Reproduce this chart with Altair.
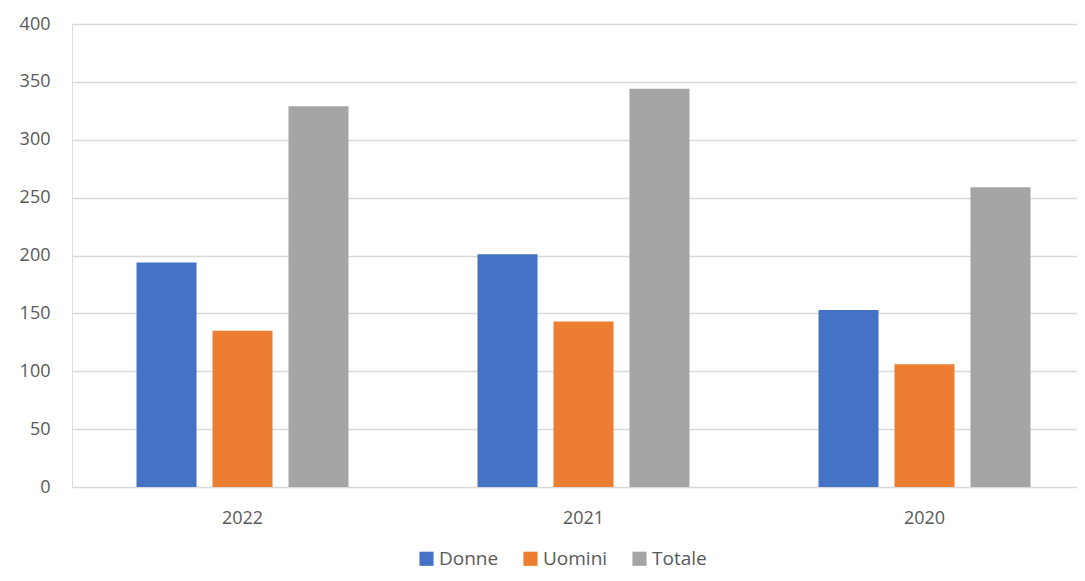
import altair as alt
import pandas as pd

years = ["2022", "2021", "2020"]
series = ["Donne", "Uomini", "Totale"]
donne = [194, 201, 153]
uomini = [135, 143, 106]
totale = [329, 344, 259]
colors = ["#4472C4", "#ED7D31", "#A5A5A5"]

rows = []
for i, y in enumerate(years):
    for s, vals in zip(series, [donne, uomini, totale]):
        rows.append({"anno": y, "serie": s, "valore": vals[i]})
df = pd.DataFrame(rows)

font = "Open Sans"
chart = alt.Chart(df).mark_bar().encode(
    x=alt.X("anno:N", sort=years, title=None,
            scale=alt.Scale(paddingInner=0, paddingOuter=0, range=[0, 1023]),
            axis=alt.Axis(labelAngle=0, ticks=False, domain=False,
                          labelFontSize=18, labelColor="#595959", labelFont=font,
                          labelPadding=22, grid=False)),
    xOffset=alt.XOffset("serie:N", sort=series,
                        scale=alt.Scale(paddingInner=0.21, paddingOuter=0.849)),
    y=alt.Y("valore:Q", title=None,
            scale=alt.Scale(domain=[0, 400], nice=False),
            axis=alt.Axis(values=list(range(0, 401, 50)), ticks=False, domain=False,
                          gridColor="#D9D9D9", gridWidth=1.3,
                          labelFontSize=18, labelColor="#595959", labelFont=font,
                          labelPadding=22)),
    color=alt.Color("serie:N", sort=series,
                    scale=alt.Scale(domain=series, range=colors),
                    legend=alt.Legend(title=None, orient="none", direction="horizontal",
                                      legendX=345, legendY=525,
                                      symbolType="square", symbolSize=200,
                                      symbolStrokeWidth=0, labelFontSize=19,
                                      labelColor="#595959", labelFont=font,
                                      columnPadding=22, labelOffset=3)),
).properties(
    width=1005, height=463,
    autosize=alt.AutoSizeParams(type="none"),
    padding={"left": 64, "top": 16, "right": 0, "bottom": 86},
).configure_view(stroke=None, clip=False).configure(background="white")

chart.save("out.html", embed_options={"renderer": "svg", "actions": False})
